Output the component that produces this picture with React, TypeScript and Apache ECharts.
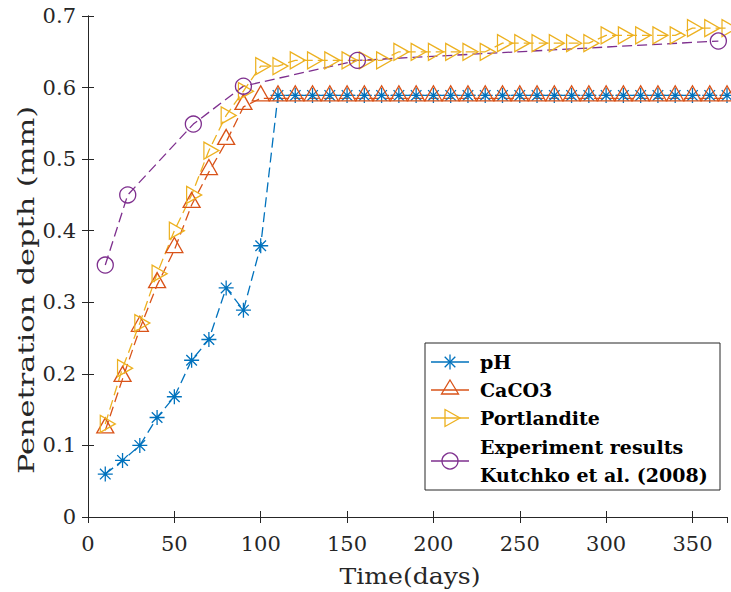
import React, { useEffect, useRef } from "react";
import * as echarts from "echarts";

const days = [10, 20, 30, 40, 50, 60, 70, 80, 90, 100, 110, 120, 130, 140, 150, 160, 170, 180, 190, 200, 210, 220, 230, 240, 250, 260, 270, 280, 290, 300, 310, 320, 330, 340, 350, 360, 370];
const phValues = [0.06, 0.079, 0.1, 0.139, 0.168, 0.219, 0.248, 0.32, 0.289, 0.379, 0.589, 0.589, 0.589, 0.589, 0.589, 0.589, 0.589, 0.589, 0.589, 0.589, 0.589, 0.589, 0.589, 0.589, 0.589, 0.589, 0.589, 0.589, 0.589, 0.589, 0.589, 0.589, 0.589, 0.589, 0.589, 0.589, 0.589];
const caco3Values = [0.121, 0.193, 0.263, 0.324, 0.373, 0.436, 0.482, 0.524, 0.573, 0.585, 0.585, 0.585, 0.585, 0.585, 0.585, 0.585, 0.585, 0.585, 0.585, 0.585, 0.585, 0.585, 0.585, 0.585, 0.585, 0.585, 0.585, 0.585, 0.585, 0.585, 0.585, 0.585, 0.585, 0.585, 0.585, 0.585, 0.585];
const portlanditeValues = [0.13, 0.208, 0.271, 0.34, 0.4, 0.45, 0.512, 0.561, 0.595, 0.63, 0.63, 0.638, 0.638, 0.638, 0.638, 0.638, 0.638, 0.65, 0.65, 0.65, 0.65, 0.65, 0.65, 0.662, 0.662, 0.662, 0.662, 0.662, 0.662, 0.673, 0.673, 0.673, 0.673, 0.673, 0.683, 0.683, 0.683];
const expDays = [10, 23, 61, 90, 156, 365];
const expValues = [0.352, 0.45, 0.549, 0.602, 0.638, 0.665];

const legendNames = ["pH", "CaCO3", "Portlandite", "Experiment results", "Kutchko et al. (2008)"];
const xTitle = "Time(days)";
const yTitle = "Penetration depth (mm)";

const C_PH = "#0072BD";
const C_CA = "#D95319";
const C_PO = "#EDB120";
const C_EX = "#7E2F8E";
const AX = "#262626";
const FONT = '"DejaVu Serif", serif';

const STAR = "path://M5,0L5,10M0,5L10,5M1.46,1.46L8.54,8.54M1.46,8.54L8.54,1.46";
const RTRI = "path://M0,0L10,5L0,10Z";

function pairs(xs: number[], ys: number[]) {
  return xs.map((x, i) => [x, ys[i]]);
}

export default function App() {
  const ref = useRef<HTMLDivElement>(null);
  useEffect(() => {
    if (!ref.current) return;
    const chart = echarts.init(ref.current, undefined, { renderer: "svg" });
    const dash = [10, 5];
    const lineBase = (color: string) => ({
      type: "line",
      showSymbol: true,
      clip: false,
      lineStyle: { color, width: 1.3, type: dash },
      itemStyle: { color: "rgba(0,0,0,0)", borderColor: color, borderWidth: 1.3 },
      emphasis: { disabled: true },
      z: 3,
    });
    const lx1 = 431, lx2 = 469, lsx = 450;
    const rowY = [362, 390, 418, 461];
    const seg = (x1: number, y1: number, x2: number, y2: number, color: string) => ({
      type: "line",
      shape: { x1, y1, x2, y2 },
      style: { stroke: color, lineWidth: 1.3 },
      z: 12,
    });
    const legendText = (t: string, y: number) => ({
      type: "text",
      x: 480,
      y,
      style: {
        text: t,
        font: `bold 19px ${FONT}`,
        fill: "#000",
        align: "left",
        verticalAlign: "middle",
        textAlign: "left",
        textVerticalAlign: "middle",
      },
      z: 12,
    });
    const r = 7.5;
    const d = r * 0.7071;
    const sy = rowY[0];

    chart.setOption({
      animation: false,
      grid: { left: 88, right: 4, top: 16, bottom: 75, containLabel: false },
      xAxis: [
        {
          type: "value",
          min: 0,
          max: 370,
          interval: 50,
          axisLine: { show: true, lineStyle: { color: AX, width: 1 } },
          axisTick: { show: true, inside: true, length: 6, lineStyle: { color: AX } },
          axisLabel: { color: AX, fontSize: 21, fontFamily: FONT, margin: 16, showMaxLabel: false },
          splitLine: { show: false },
        },
        {
          type: "value",
          position: "top",
          min: 0,
          max: 370,
          interval: 50,
          axisLine: { show: true, lineStyle: { color: AX, width: 1 } },
          axisTick: { show: true, inside: true, length: 6, lineStyle: { color: AX } },
          axisLabel: { show: false },
          splitLine: { show: false },
        },
      ],
      yAxis: [
        {
          type: "value",
          min: 0,
          max: 0.7,
          interval: 0.1,
          axisLine: { show: true, lineStyle: { color: AX, width: 1 } },
          axisTick: { show: true, inside: true, length: 6, lineStyle: { color: AX } },
          axisLabel: {
            color: AX,
            fontSize: 21,
            fontFamily: FONT,
            margin: 12,
            formatter: (v: number) => (v === 0 ? "0" : v.toFixed(1)),
          },
          splitLine: { show: false },
        },
        {
          type: "value",
          position: "right",
          min: 0,
          max: 0.7,
          interval: 0.1,
          axisLine: { show: true, lineStyle: { color: AX, width: 1 } },
          axisTick: { show: true, inside: true, length: 6, lineStyle: { color: AX } },
          axisLabel: { show: false },
          splitLine: { show: false },
        },
      ],
      series: [
        { ...lineBase(C_PH), name: legendNames[0], data: pairs(days, phValues), symbol: STAR, symbolSize: [15, 15] },
        { ...lineBase(C_CA), name: legendNames[1], data: pairs(days, caco3Values), symbol: "triangle", symbolSize: [17, 15], symbolOffset: [0, -5] },
        { ...lineBase(C_PO), name: legendNames[2], data: pairs(days, portlanditeValues), symbol: RTRI, symbolSize: [15, 17], symbolOffset: [2.5, 0] },
        { ...lineBase(C_EX), name: legendNames[3], data: pairs(expDays, expValues), symbol: "circle", symbolSize: 16 },
      ],
      graphic: [
        {
          type: "text",
          x: 410,
          y: 577,
          scaleX: 1.14,
          style: {
            text: xTitle,
            font: `22px ${FONT}`,
            fill: AX,
            align: "center",
            verticalAlign: "middle",
            textAlign: "center",
            textVerticalAlign: "middle",
          },
        },
        {
          type: "text",
          x: 26,
          y: 290,
          rotation: Math.PI / 2,
          scaleX: 1.38,
          style: {
            text: yTitle,
            font: `22px ${FONT}`,
            fill: AX,
            align: "center",
            verticalAlign: "middle",
            textAlign: "center",
            textVerticalAlign: "middle",
          },
        },
        {
          type: "rect",
          shape: { x: 425, y: 343, width: 295, height: 147 },
          style: { fill: "#fff", stroke: AX, lineWidth: 1 },
          z: 10,
        },
        seg(lx1, rowY[0], lx2, rowY[0], C_PH),
        seg(lsx, sy - r, lsx, sy + r, C_PH),
        seg(lsx - d, sy - d, lsx + d, sy + d, C_PH),
        seg(lsx - d, sy + d, lsx + d, sy - d, C_PH),
        seg(lx1, rowY[1], lx2, rowY[1], C_CA),
        {
          type: "polygon",
          shape: { points: [[lsx, rowY[1] - 10], [lsx + 8.5, rowY[1] + 4], [lsx - 8.5, rowY[1] + 4]] },
          style: { fill: "none", stroke: C_CA, lineWidth: 1.3 },
          z: 12,
        },
        seg(lx1, rowY[2], lx2, rowY[2], C_PO),
        {
          type: "polygon",
          shape: { points: [[lsx - 5, rowY[2] - 8.5], [lsx + 10, rowY[2]], [lsx - 5, rowY[2] + 8.5]] },
          style: { fill: "none", stroke: C_PO, lineWidth: 1.3 },
          z: 12,
        },
        seg(lx1, rowY[3], lx2, rowY[3], C_EX),
        {
          type: "circle",
          shape: { cx: lsx, cy: rowY[3], r: 8 },
          style: { fill: "none", stroke: C_EX, lineWidth: 1.3 },
          z: 12,
        },
        legendText(legendNames[0], 362),
        legendText(legendNames[1], 390),
        legendText(legendNames[2], 418),
        legendText(legendNames[3], 447),
        legendText(legendNames[4], 475),
      ],
    });
    return () => chart.dispose();
  }, []);
  return (
    <div
      ref={ref}
      style={{ position: "fixed", left: 0, top: 0, width: 731, height: 592, background: "#fff" }}
    />
  );
}
